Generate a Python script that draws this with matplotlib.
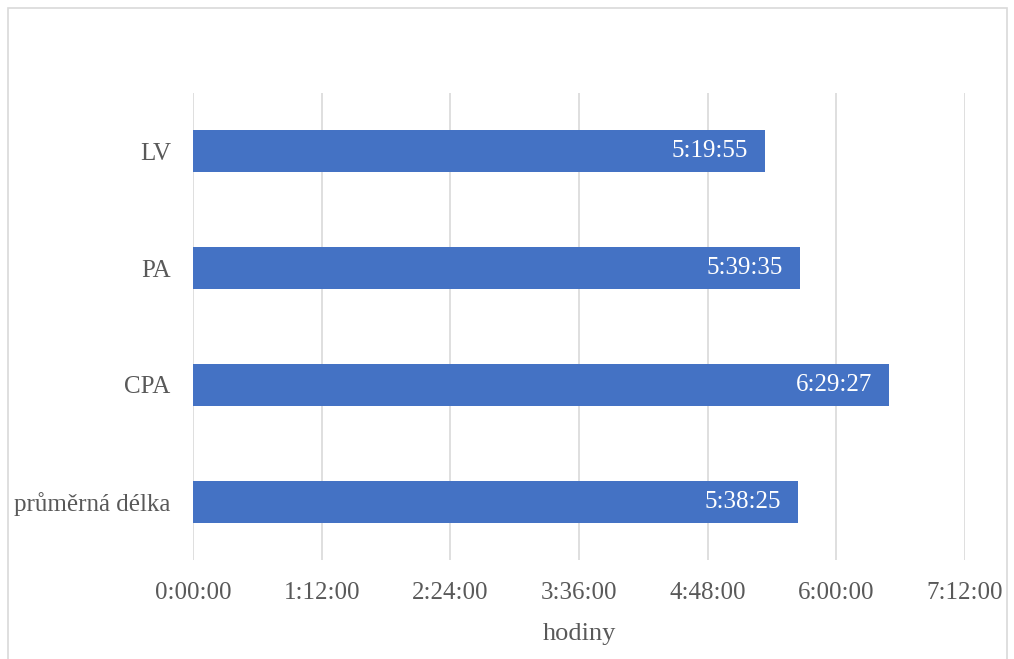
import matplotlib
matplotlib.use("Agg")
import matplotlib.pyplot as plt
from matplotlib.patches import Rectangle

categories = ["LV", "PA", "CPA", "průměrná délka"]
value_labels = ["5:19:55", "5:39:35", "6:29:27", "5:38:25"]
tick_labels = ["0:00:00", "1:12:00", "2:24:00", "3:36:00", "4:48:00", "6:00:00", "7:12:00"]

def to_hours(s):
    h, m, sec = (int(p) for p in s.split(":"))
    return h + m / 60 + sec / 3600

values = [to_hours(v) for v in value_labels]
ticks = [to_hours(t) for t in tick_labels]

plt.rcParams['font.family'] = ['Liberation Serif', 'DejaVu Serif']
fig = plt.figure(figsize=(10.14, 6.59), dpi=100)
ax = fig.add_axes([0.1903, 0.150, 0.7614, 0.709])

ypos = list(range(len(categories)))[::-1]
ax.barh(ypos, values, height=0.36, color="#4472C4", zorder=3)
for y, v, lab in zip(ypos, values, value_labels):
    ax.text(v - 0.155, y, lab, ha="right", va="center", color="white", fontsize=18, zorder=4)

ax.set_yticks(ypos)
ax.set_yticklabels(categories, fontsize=18, color="#595959")
ax.set_ylim(-0.5, len(categories) - 0.5)
ax.set_xlim(0, ticks[-1])
ax.set_xticks(ticks)
ax.set_xticklabels(tick_labels, fontsize=18, color="#595959")
ax.tick_params(axis="both", length=0)
ax.tick_params(axis="x", pad=15.5)
ax.tick_params(axis="y", pad=16)
ax.xaxis.grid(True, color="#D9D9D9", linewidth=1.2, zorder=0)
for s in ax.spines.values():
    s.set_visible(False)
ax.set_xlabel("hodiny", fontsize=19, color="#595959", labelpad=14)

fig.patches.append(Rectangle((0.008, -0.01), 0.985, 0.998, transform=fig.transFigure,
                             fill=False, edgecolor="#D9D9D9", linewidth=1.2))

fig.savefig("out.png", dpi=100)
